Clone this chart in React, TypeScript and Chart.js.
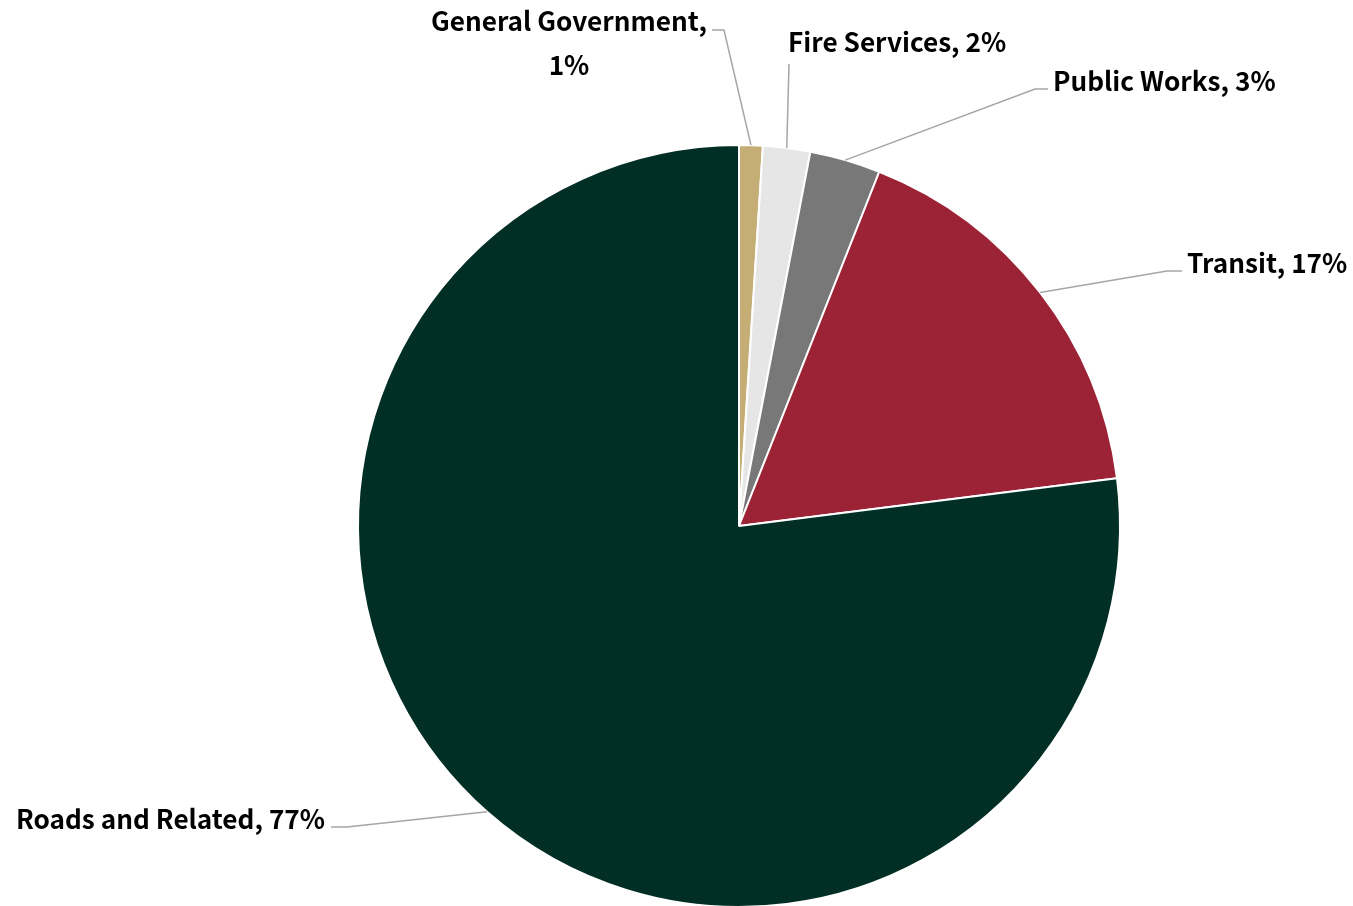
import React, { useEffect, useRef } from "react";
import { Chart, registerables } from "chart.js";

Chart.register(...registerables);

const categories = ["General Government", "Fire Services", "Public Works", "Transit", "Roads and Related"];
const values = [1, 2, 3, 17, 77];
const colors = ["#c4ae76", "#e6e6e6", "#787878", "#9c2236", "#022f25"];

// label layout: elbow point of leader, end of horizontal segment, text anchor
const labelLayout = [
  { elbow: [724, 30], end: [712, 30], align: "center", x: 569, y: 21, split: true },
  { elbow: [789, 64], end: [789, 64], align: "left", x: 788, y: 42, split: false },
  { elbow: [1035, 89], end: [1048, 89], align: "left", x: 1053, y: 81, split: false },
  { elbow: [1167, 271], end: [1182, 271], align: "left", x: 1187, y: 263, split: false },
  { elbow: [347, 827], end: [331, 827], align: "right", x: 325, y: 819, split: false },
];

const FONT = "bold 26.2px 'Noto Sans CJK JP', 'Noto Sans', sans-serif";

const labelPlugin = {
  id: "leaderLabels",
  afterDraw(chart: any) {
    const ctx = chart.ctx;
    const meta = chart.getDatasetMeta(0);
    ctx.save();
    meta.data.forEach((arc: any, i: number) => {
      const L = labelLayout[i];
      const { x, y, startAngle, endAngle, outerRadius } = arc.getProps(
        ["x", "y", "startAngle", "endAngle", "outerRadius"],
        true
      );
      const mid = (startAngle + endAngle) / 2;
      const px = x + Math.cos(mid) * outerRadius;
      const py = y + Math.sin(mid) * outerRadius;
      ctx.strokeStyle = "#a6a6a6";
      ctx.lineWidth = 1.5;
      ctx.beginPath();
      ctx.moveTo(px, py);
      ctx.lineTo(L.elbow[0], L.elbow[1]);
      ctx.lineTo(L.end[0], L.end[1]);
      ctx.stroke();

      ctx.fillStyle = "#000000";
      ctx.font = FONT;
      ctx.textBaseline = "middle";
      const label = categories[i];
      const val = values[i] + "%";
      if (L.split) {
        ctx.textAlign = "center";
        ctx.fillText(label + ",", L.x, L.y);
        ctx.fillText(val, L.x, L.y + 44);
      } else {
        ctx.textAlign = L.align as CanvasTextAlign;
        ctx.fillText(label + ", " + val, L.x, L.y);
      }
    });
    ctx.restore();
  },
};

export default function App() {
  const ref = useRef<HTMLCanvasElement>(null);
  useEffect(() => {
    if (!ref.current) return;
    const chart = new Chart(ref.current, {
      type: "pie",
      data: {
        labels: categories,
        datasets: [
          {
            data: values,
            backgroundColor: colors,
            borderColor: "#ffffff",
            borderWidth: 2,
            hoverOffset: 0,
          },
        ],
      },
      options: {
        animation: false,
        responsive: false,
        layout: { padding: { left: 357, right: 232, top: 144, bottom: 12 } },
        plugins: {
          legend: { display: false },
          tooltip: { enabled: false },
        },
      },
      plugins: [labelPlugin],
    });
    return () => chart.destroy();
  }, []);
  return (
    <div style={{ position: "absolute", left: 0, top: 0, width: 1353, height: 906, overflow: "hidden", background: "#fff" }}>
      <canvas ref={ref} width={1353} height={920} style={{ display: "block" }} />
    </div>
  );
}
